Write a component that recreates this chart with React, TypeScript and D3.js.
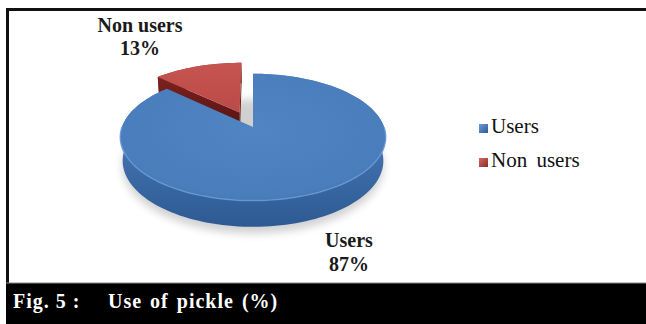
import React from "react";
import * as d3 from "d3";

const categories = ["Users", "Non users"];
const values = [87, 13];
const exploded = [0, 1];
const labelTexts = ["Users", "Non users"];
const pctTexts = ["87%", "13%"];
const captionFig = "Fig. 5 :";
const captionText = "Use of pickle (%)";

const W = 646;
const H = 324;
// 3D projection parameters
const CX = 253;
const CY = 127;
const R = 131;
const SIN = 0.472;
const COS = Math.sqrt(1 - SIN * SIN);
const DIST = 722;
const DEPTH = 27;
const EXPLODE = 35;

function project(X: number, Z: number, Y: number): [number, number] {
  const dep = Z * COS - Y * SIN;
  const f = DIST / (DIST + dep);
  return [CX + X * f, CY - (Z * SIN + Y * COS) * f];
}

const line = d3.line<[number, number]>().x((d) => d[0]).y((d) => d[1]);

function rimPts(a0: number, a1: number, ox: number, oz: number, Y: number) {
  const n = Math.max(8, Math.ceil(((a1 - a0) / Math.PI) * 90));
  const pts: [number, number][] = [];
  for (let i = 0; i <= n; i++) {
    const t = a0 + ((a1 - a0) * i) / n;
    pts.push(project(ox + R * Math.sin(t), oz + R * Math.cos(t), Y));
  }
  return pts;
}

export default function App() {
  const pie = d3.pie<number>().sort(null).value((d) => d)(values);
  const slices = pie.map((p, i) => {
    const mid = (p.startAngle + p.endAngle) / 2;
    const e = exploded[i] ? EXPLODE : 0;
    const ox = e * Math.sin(mid);
    const oz = e * Math.cos(mid);
    const topRim = rimPts(p.startAngle, p.endAngle, ox, oz, 0);
    const botRim = rimPts(p.startAngle, p.endAngle, ox, oz, -DEPTH);
    const apexT = project(ox, oz, 0);
    const apexB = project(ox, oz, -DEPTH);
    const top = line([apexT, ...topRim])! + "Z";
    const wall = line([...topRim, ...botRim.slice().reverse()])! + "Z";
    const cutStart = line([apexT, topRim[0], botRim[0], apexB])! + "Z";
    const cutEnd =
      line([apexT, topRim[topRim.length - 1], botRim[botRim.length - 1], apexB])! + "Z";
    const frontRim = rimPts(
      Math.max(p.startAngle, Math.PI / 2),
      Math.min(p.endAngle, (Math.PI * 3) / 2),
      ox,
      oz,
      0
    );
    return { i, top, wall, cutStart, cutEnd, frontRim: line(frontRim)!, name: categories[i] };
  });

  const shadowPts = rimPts(0, Math.PI * 2, 0, -4, -DEPTH - 4);
  const shadow = line(shadowPts)! + "Z";

  const users = slices[0];
  const non = slices[1];
  const serif = "'Liberation Serif', 'Times New Roman', serif";

  return (
    <svg
      width={W}
      height={H}
      style={{ position: "absolute", left: 0, top: 0, background: "#fff" }}
      fontFamily={serif}
    >
      <defs>
        <filter id="blur" x="-20%" y="-20%" width="140%" height="140%">
          <feGaussianBlur stdDeviation="4" />
        </filter>
        <linearGradient id="blueWall" x1="0" y1="0" x2="0" y2="1">
          <stop offset="0" stopColor="#5f90d0" />
          <stop offset="0.35" stopColor="#4777b5" />
          <stop offset="1" stopColor="#2d5a92" />
        </linearGradient>
        <radialGradient id="blueTop" cx="0.5" cy="0.45" r="0.6">
          <stop offset="0" stopColor="#5084c2" />
          <stop offset="0.85" stopColor="#4a7dbb" />
          <stop offset="1" stopColor="#4375b2" />
        </radialGradient>
        <linearGradient id="redTop" x1="0" y1="0" x2="0" y2="1">
          <stop offset="0" stopColor="#c65451" />
          <stop offset="1" stopColor="#bb4b48" />
        </linearGradient>
        <linearGradient id="redCut" x1="0" y1="0" x2="0" y2="1">
          <stop offset="0" stopColor="#7d2220" />
          <stop offset="1" stopColor="#4f1110" />
        </linearGradient>
        <linearGradient id="legBlue" x1="0" y1="0" x2="1" y2="1">
          <stop offset="0" stopColor="#6f9bd6" />
          <stop offset="1" stopColor="#2f5b94" />
        </linearGradient>
        <linearGradient id="legRed" x1="0" y1="0" x2="1" y2="1">
          <stop offset="0" stopColor="#d46a67" />
          <stop offset="1" stopColor="#8a2b29" />
        </linearGradient>
      </defs>

      {/* frame */}
      <line x1={6} x2={W} y1={9.5} y2={9.5} stroke="#111" strokeWidth={3} />
      <line x1={7.5} x2={7.5} y1={8} y2={H} stroke="#111" strokeWidth={3} />

      {/* shadow */}
      <path d={shadow} fill="#000" opacity={0.18} filter="url(#blur)" />

      {/* exploded slice (behind) */}
      <g>
        <path d={non.wall} fill="#8f2e2c" />
        <path d={non.cutEnd} fill="#6a1b19" />
        <path d={non.cutStart} fill="url(#redCut)" />
        <path d={non.top} fill="url(#redTop)" />
      </g>

      {/* main slice */}
      <g>
        <path d={users.wall} fill="url(#blueWall)" />
        <path d={users.top} fill="url(#blueTop)" />
        <path d={users.frontRim} fill="none" stroke="#6a9ad8" strokeWidth={1.5} opacity={0.8} />
      </g>

      {/* data labels */}
      <g fontWeight="bold" fontSize={20} fill="#1a1a1a" textAnchor="middle">
        <text x={140} y={32}>{labelTexts[1]}</text>
        <text x={140} y={55}>{pctTexts[1]}</text>
        <text x={349} y={247}>{labelTexts[0]}</text>
        <text x={349} y={271}>{pctTexts[0]}</text>
      </g>

      {/* legend */}
      <g fontSize={21} fill="#111">
        <rect x={479} y={124} width={9} height={9} fill="url(#legBlue)" />
        <text x={491} y={133}>{categories[0]}</text>
        <rect x={479} y={158} width={9} height={9} fill="url(#legRed)" />
        <text x={491} y={167} wordSpacing={4}>{categories[1]}</text>
      </g>

      {/* caption band */}
      <rect x={6} y={283} width={W - 6} height={H - 283} fill="#000" />
      <line x1={6} x2={W} y1={283} y2={283} stroke="#888" strokeWidth={1} />
      <g fill="#fff" fontWeight="bold" fontSize={20} letterSpacing={1}>
        <text x={13} y={308}>{captionFig}</text>
        <text x={108} y={308} wordSpacing={2}>{captionText}</text>
      </g>
    </svg>
  );
}
